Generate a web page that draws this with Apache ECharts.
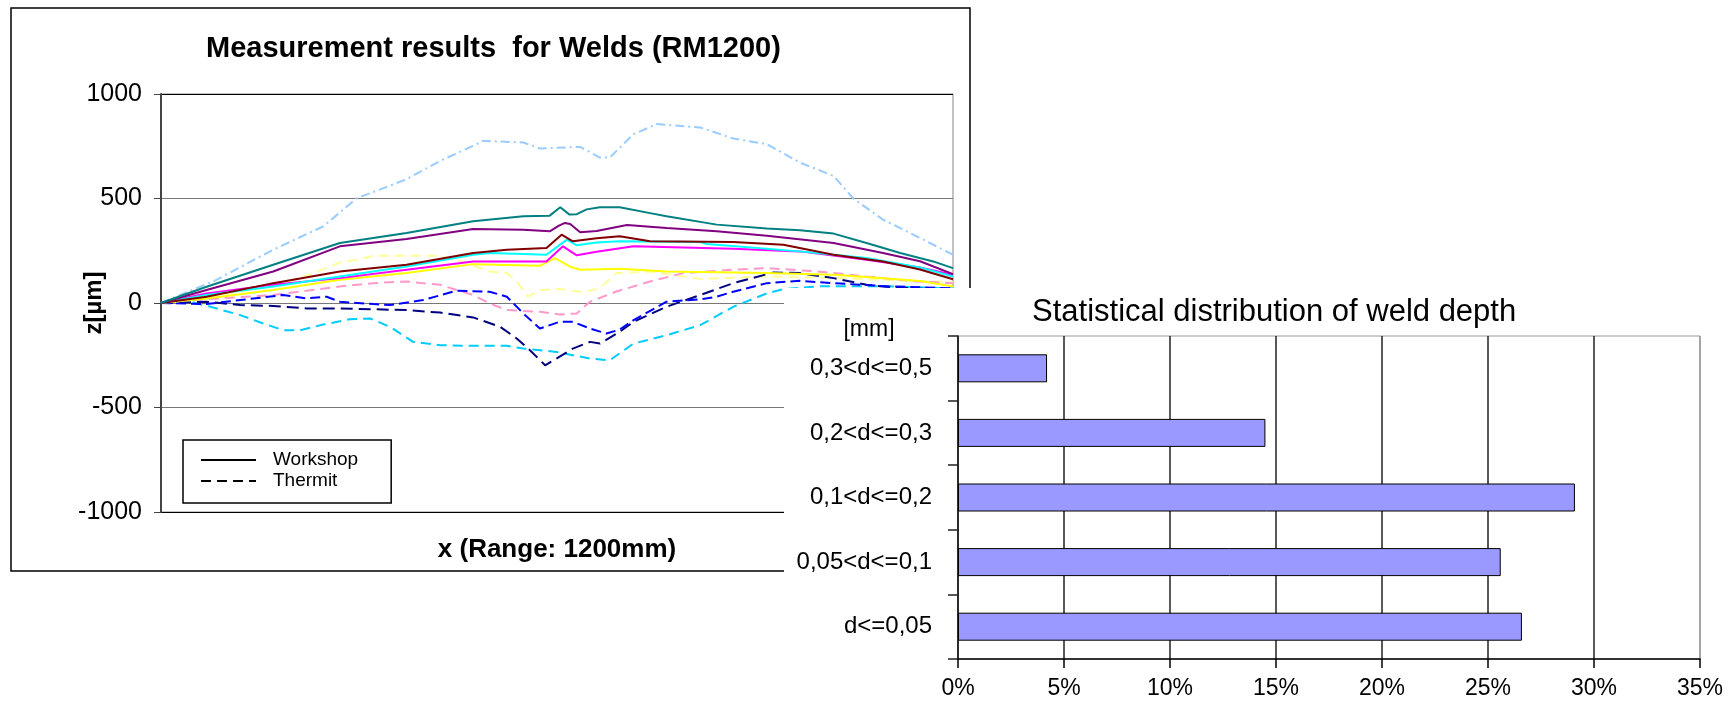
<!DOCTYPE html>
<html><head><meta charset="utf-8">
<script src="https://cdn.jsdelivr.net/npm/echarts@6/dist/echarts.min.js"></script>
<style>
html,body{margin:0;padding:0;background:#fff;}
#weld{position:absolute;left:0;top:0;width:1735px;height:701px;}
#dist{position:absolute;left:784px;top:288px;width:951px;height:413px;background:#fff;}
</style></head><body>
<div id="weld"></div><div id="dist"></div>
<script>
// ---------- data: weld profiles, x in mm (0..1200), z in µm ----------
const workshopTeal = [[0,0],[69,78],[170,183],[271,287],[372,335],[473,391],[549,415],[589,418],[605,458],[619,423],[630,425],[645,448],[665,458],[695,458],[741,430],[766,415],[842,375],[918,356],[968,348],[1019,332],[1069,287],[1120,239],[1170,199],[1200,167]];
const workshopPurple = [[0,0],[69,62],[170,151],[271,271],[372,306],[473,354],[549,351],[589,343],[603,370],[612,383],[620,378],[635,338],[660,345],[706,373],[766,359],[842,343],[918,322],[1019,287],[1094,239],[1150,200],[1200,138]];
const workshopMaroon = [[0,0],[69,30],[170,95],[271,151],[372,183],[473,239],[524,255],[584,263],[607,327],[624,295],[660,310],[695,319],[741,295],[867,292],[943,279],[1019,231],[1094,199],[1150,160],[1200,114]];
const workshopCyan = [[0,0],[69,38],[170,79],[271,127],[372,175],[473,231],[499,239],[584,231],[615,303],[630,276],[660,290],[695,295],[817,292],[827,282],[968,247],[1069,215],[1150,170],[1200,127]];
const workshopMagenta = [[0,0],[69,46],[170,87],[271,119],[372,159],[473,199],[584,199],[609,271],[630,228],[660,245],[716,271],[867,260],[968,247],[1069,207],[1150,170],[1200,135]];
const workshopYellow = [[0,0],[69,22],[170,62],[271,111],[372,143],[473,186],[574,178],[597,215],[619,175],[635,159],[695,164],[766,151],[918,143],[1019,135],[1094,119],[1150,105],[1200,79]];
const thermitLightBlue = [[0,0],[84,111],[170,255],[246,367],[296,500],[372,592],[423,680],[473,752],[488,776],[549,768],[574,739],[635,747],[665,696],[680,696],[716,808],[751,856],[817,840],[867,787],[918,760],[968,672],[1019,608],[1049,500],[1094,399],[1145,319],[1200,231]];
const thermitLightYellow = [[0,0],[69,30],[170,79],[231,143],[271,194],[296,207],[322,226],[423,226],[448,207],[498,151],[524,143],[539,103],[556,30],[574,62],[604,67],[640,51],[665,71],[690,143],[741,150],[817,115],[918,127],[1019,120],[1100,110],[1200,100]];
const thermitPink = [[0,0],[69,18],[170,38],[221,59],[271,79],[322,95],[372,103],[423,87],[448,62],[473,38],[498,-2],[524,-34],[574,-42],[604,-55],[630,-50],[650,6],[690,55],[741,103],[791,143],[867,159],[918,167],[994,151],[1069,127],[1145,103],[1200,95]];
const thermitBlue = [[0,0],[69,-5],[120,14],[185,38],[221,22],[251,30],[271,6],[322,-5],[347,-10],[397,14],[448,59],[498,54],[524,30],[549,-50],[574,-122],[604,-90],[624,-90],[650,-122],[675,-146],[695,-127],[716,-82],[766,6],[817,18],[842,30],[867,54],[918,95],[968,106],[1019,95],[1100,80],[1200,70]];
const thermitNavy = [[0,0],[69,6],[120,-10],[170,-14],[221,-26],[271,-26],[322,-30],[372,-34],[423,-46],[473,-69],[514,-114],[539,-170],[559,-226],[582,-298],[599,-266],[624,-218],[650,-186],[665,-194],[695,-138],[716,-90],[766,-18],[817,38],[867,95],[928,146],[968,143],[1019,119],[1069,87],[1094,79],[1200,60]];
const thermitSky = [[0,0],[34,14],[69,-13],[120,-58],[155,-98],[185,-130],[211,-130],[246,-103],[286,-78],[317,-74],[347,-114],[382,-186],[423,-202],[473,-205],[524,-205],[549,-218],[599,-234],[650,-266],[680,-274],[716,-194],[766,-154],[817,-106],[867,-18],[918,46],[943,66],[1000,80],[1100,80],[1200,70]];
const zTicks = [-1000, -500, 0, 500, 1000];

// ---------- data: weld depth distribution ----------
const depthCategories = ['d<=0,05', '0,05<d<=0,1', '0,1<d<=0,2', '0,2<d<=0,3', '0,3<d<=0,5'];
const depthShares = [26.6, 25.6, 29.1, 14.5, 4.2];
const shareTicks = [0, 5, 10, 15, 20, 25, 30, 35];

// ---------- styles ----------
const FONT = 'Liberation Sans, Arial, sans-serif';
const DASH = [10, 6];
const profileStyles = [
  {data: thermitLightBlue, color: '#99CCFF', type: [9, 4, 2, 4]},
  {data: thermitLightYellow, color: '#FFFF99', type: DASH},
  {data: thermitPink, color: '#FF99CC', type: DASH},
  {data: thermitSky, color: '#00CCFF', type: DASH},
  {data: thermitNavy, color: '#000080', type: [12, 6]},
  {data: thermitBlue, color: '#0000FF', type: [10, 5]},
  {data: workshopYellow, color: '#FFFF00', type: 'solid'},
  {data: workshopMagenta, color: '#FF00FF', type: 'solid'},
  {data: workshopCyan, color: '#00FFFF', type: 'solid'},
  {data: workshopMaroon, color: '#800000', type: 'solid'},
  {data: workshopPurple, color: '#800080', type: 'solid'},
  {data: workshopTeal, color: '#008080', type: 'solid'}
];

const lineSeries = profileStyles.map(s => ({
  type: 'line', data: s.data, symbol: 'none', showSymbol: false, silent: true,
  lineStyle: {color: s.color, width: 2, type: s.type}, itemStyle: {color: s.color}
}));
lineSeries.push(
  {name: 'Workshop', type: 'line', data: [], symbol: 'none', lineStyle: {color: '#000', width: 2, type: 'solid'}, itemStyle: {color: '#000'}},
  {name: 'Thermit', type: 'line', data: [], symbol: 'none', lineStyle: {color: '#000', width: 2, type: [10, 6]}, itemStyle: {color: '#000'}}
);

const weld = echarts.init(document.getElementById('weld'), null, {renderer: 'canvas'});
weld.setOption({
  animation: false,
  backgroundColor: '#fff',
  title: {
    text: 'Measurement results  for Welds (RM1200)',
    left: 206, top: 34, padding: 0,
    textStyle: {fontFamily: FONT, fontSize: 29, fontWeight: 'bold', color: '#000'}
  },
  graphic: [{
    type: 'rect', silent: true, z: -10,
    shape: {x: 11, y: 8, width: 959, height: 563},
    style: {fill: 'none', stroke: '#000', lineWidth: 1.5}
  }],
  legend: {
    data: ['Workshop', 'Thermit'], orient: 'vertical', left: 183, top: 440,
    padding: [10, 33, 12, 17], itemWidth: 55, itemHeight: 14, itemGap: 1,
    borderColor: '#000', borderWidth: 1.5, backgroundColor: '#fff',
    itemStyle: {opacity: 0, borderWidth: 0},
    textStyle: {fontFamily: FONT, fontSize: 19, color: '#000', lineHeight: 20, padding: [0, 0, 0, 12]}
  },
  grid: {left: 161, right: 782, top: 94, bottom: 189, show: true, borderColor: '#888', borderWidth: 1, outerBoundsMode: 'none'},
  xAxis: {
    type: 'value', min: 0, max: 1200,
    name: 'x (Range: 1200mm)', nameLocation: 'middle', nameGap: 25,
    nameTextStyle: {fontFamily: FONT, fontSize: 26, fontWeight: 'bold', color: '#000'},
    axisLine: {show: false}, axisTick: {show: false}, axisLabel: {show: false}, splitLine: {show: false}
  },
  yAxis: {
    type: 'value', min: zTicks[0], max: zTicks[zTicks.length - 1], interval: 500,
    name: 'z[µm]', nameLocation: 'middle', nameGap: 55, nameMoveOverlap: false,
    nameTextStyle: {fontFamily: FONT, fontSize: 24, fontWeight: 'bold', color: '#000'},
    axisLine: {show: true, lineStyle: {color: '#444', width: 2}},
    axisTick: {show: true, length: 7, lineStyle: {color: '#444', width: 1}},
    axisLabel: {fontFamily: FONT, fontSize: 25, color: '#000', margin: 19, formatter: v => String(v)},
    splitLine: {show: true, lineStyle: {color: ['#000', '#777', '#777', '#777', '#000'], width: 1}}
  },
  series: lineSeries
});

const dist = echarts.init(document.getElementById('dist'), null, {renderer: 'canvas'});
dist.setOption({
  animation: false,
  backgroundColor: '#fff',
  title: {
    text: 'Statistical distribution of weld depth',
    left: 248, top: 9, padding: 0,
    textStyle: {fontFamily: FONT, fontSize: 31, fontWeight: 'normal', color: '#000'}
  },
  graphic: [{
    type: 'text', x: 85, y: 42, silent: true,
    style: {text: '[mm]', font: '23px Liberation Sans, Arial, sans-serif', fill: '#000', align: 'center', verticalAlign: 'middle'}
  }],
  grid: {left: 174, right: 35, top: 48, bottom: 42, show: true, borderColor: '#999', borderWidth: 1, outerBoundsMode: 'none'},
  xAxis: {
    type: 'value', min: shareTicks[0], max: shareTicks[shareTicks.length - 1], interval: 5,
    axisLine: {show: true, lineStyle: {color: '#000', width: 1.5}},
    axisTick: {show: true, length: 9, lineStyle: {color: '#000', width: 1.5}},
    axisLabel: {formatter: '{value}%', fontFamily: FONT, fontSize: 23, color: '#000', margin: 18},
    splitLine: {show: true, lineStyle: {color: ['#222', '#222', '#222', '#222', '#222', '#222', '#222', '#999'], width: 1.5}}
  },
  yAxis: {
    type: 'category', data: depthCategories,
    axisLine: {show: true, lineStyle: {color: '#222', width: 1.5}},
    axisTick: {show: true, length: 10, lineStyle: {color: '#222', width: 1.5}},
    axisLabel: {fontFamily: FONT, fontSize: 24, color: '#000', margin: 26, padding: [8, 0, 0, 0]}
  },
  series: [{
    type: 'bar', data: depthShares, barWidth: 28,
    itemStyle: {color: '#9999FF', borderColor: '#000', borderWidth: 1}
  }]
});
</script></body></html>
